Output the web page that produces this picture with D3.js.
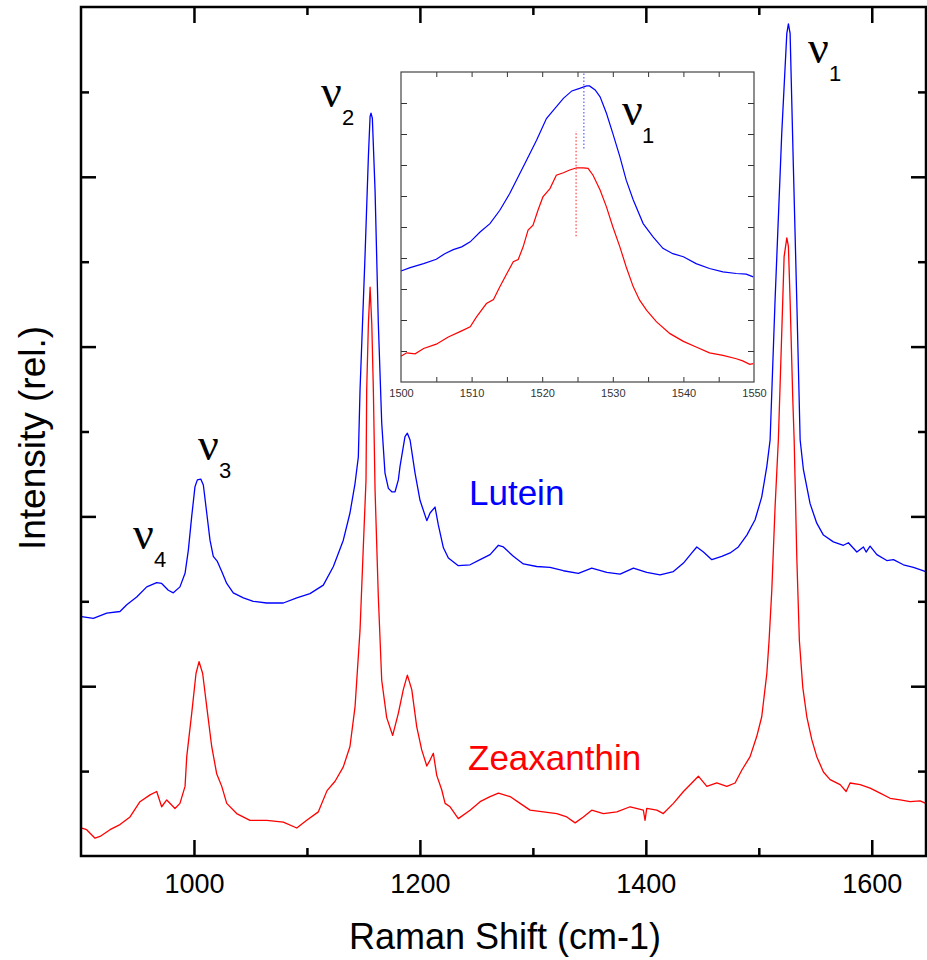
<!DOCTYPE html>
<html>
<head>
<meta charset="utf-8">
<script src="https://cdn.jsdelivr.net/npm/d3@7"></script>
<style>
  body { margin: 0; background: #fff; }
  svg { display: block; }
</style>
</head>
<body>
<div id="plot_area"></div>
<script>
// Raman spectra (shift in cm-1, intensity in relative units)
const luteinShift = [900.6, 910.9, 922.8, 934.5, 940.5, 949.3, 958.2, 967.0, 971.4, 977.3, 981.7, 987.6, 992.1, 995.0, 998.0,
  1000.9, 1003.0, 1006.0, 1008.3, 1011.3, 1014.2, 1017.1, 1020.7, 1024.6, 1029.0, 1034.8, 1043.7, 1052.5, 1064.4, 1079.1,
  1091.0, 1102.7, 1114.5, 1123.4, 1132.2, 1138.1, 1142.6, 1145.5, 1147.0, 1151.4, 1154.4, 1155.9, 1156.7, 1157.9, 1160.3,
  1163.2, 1166.2, 1169.1, 1172.1, 1175.1, 1178.0, 1180.9, 1182.4, 1186.8, 1188.9, 1191.3, 1195.7, 1200.1, 1206.1, 1209.0,
  1213.4, 1216.3, 1220.8, 1225.2, 1234.0, 1244.4, 1253.3, 1262.1, 1269.5, 1273.9, 1282.7, 1291.6, 1303.4, 1315.2, 1327.0,
  1340.3, 1352.1, 1365.4, 1377.2, 1389.0, 1400.8, 1412.6, 1424.4, 1433.3, 1440.7, 1445.1, 1451.0, 1458.4, 1467.2, 1474.6,
  1481.9, 1489.4, 1496.7, 1502.6, 1507.1, 1510.0, 1514.4, 1520.3, 1524.8, 1526.2, 1527.7, 1530.6, 1533.6, 1536.6, 1539.5,
  1545.4, 1551.3, 1557.2, 1566.0, 1574.9, 1579.3, 1586.8, 1592.6, 1595.0, 1598.5, 1604.5, 1613.3, 1619.2, 1628.0, 1636.9, 1647.8];
const luteinIntensity = [2.82, 2.80, 2.86, 2.88, 2.96, 3.05, 3.17, 3.22, 3.21, 3.13, 3.10, 3.17, 3.33, 3.60, 4.00,
  4.35, 4.43, 4.44, 4.37, 4.04, 3.72, 3.53, 3.47, 3.35, 3.21, 3.10, 3.04, 3.00, 2.98, 2.98,
  3.04, 3.09, 3.19, 3.41, 3.72, 4.04, 4.39, 4.70, 5.49, 7.06, 8.24, 8.71, 8.75, 8.69, 7.84,
  6.27, 5.10, 4.51, 4.33, 4.29, 4.29, 4.43, 4.59, 4.94, 4.98, 4.90, 4.51, 4.19, 3.95, 4.04,
  4.11, 3.90, 3.63, 3.51, 3.42, 3.43, 3.49, 3.55, 3.66, 3.64, 3.53, 3.44, 3.41, 3.40, 3.36,
  3.33, 3.39, 3.34, 3.32, 3.39, 3.34, 3.31, 3.35, 3.45, 3.57, 3.64, 3.58, 3.49, 3.53, 3.57,
  3.64, 3.78, 3.96, 4.23, 4.59, 4.90, 6.55, 8.51, 9.69, 9.80, 9.69, 8.12, 6.55, 4.90, 4.55,
  4.15, 3.92, 3.78, 3.70, 3.66, 3.69, 3.58, 3.64, 3.58, 3.65, 3.55, 3.48, 3.49, 3.43, 3.40, 3.35];

const zeaxShift = [900.0, 905.0, 912.4, 916.8, 925.7, 934.5, 943.4, 952.2, 961.1, 967.0, 971.4, 975.9, 983.2, 987.6, 992.1,
  993.6, 998.0, 1001.8, 1004.5, 1007.7, 1011.3, 1015.7, 1020.1, 1024.6, 1029.0, 1037.8, 1049.6, 1064.4, 1079.1, 1091.0,
  1099.8, 1110.1, 1117.8, 1124.9, 1132.2, 1138.1, 1142.6, 1147.0, 1149.9, 1152.3, 1152.9, 1154.4, 1155.9, 1157.4, 1158.8,
  1160.3, 1163.2, 1166.2, 1170.6, 1175.9, 1180.9, 1185.3, 1188.9, 1192.8, 1197.2, 1201.6, 1206.1, 1209.0, 1211.9, 1214.9,
  1219.3, 1222.3, 1226.7, 1234.0, 1244.4, 1253.3, 1262.1, 1269.5, 1279.8, 1288.7, 1297.5, 1309.3, 1321.2, 1330.0, 1337.4,
  1344.7, 1352.1, 1362.4, 1374.3, 1386.1, 1397.8, 1399.3, 1400.8, 1409.7, 1415.5, 1424.4, 1433.3, 1440.7, 1446.5, 1454.0,
  1462.8, 1471.7, 1479.0, 1484.9, 1492.3, 1498.2, 1502.6, 1507.1, 1509.1, 1511.5, 1514.4, 1517.3, 1520.3, 1522.4, 1524.8,
  1526.2, 1527.7, 1530.1, 1531.3, 1533.6, 1535.9, 1538.9, 1542.5, 1546.9, 1551.3, 1557.2, 1563.1, 1572.0, 1577.3, 1580.8,
  1589.7, 1598.5, 1607.4, 1616.2, 1625.1, 1633.9, 1642.8, 1647.8];
const zeaxIntensity = [0.33, 0.31, 0.21, 0.23, 0.31, 0.37, 0.46, 0.64, 0.72, 0.76, 0.58, 0.66, 0.56, 0.62, 0.82,
  1.17, 1.68, 2.15, 2.29, 2.15, 1.76, 1.29, 0.97, 0.82, 0.62, 0.50, 0.42, 0.42, 0.40, 0.33,
  0.42, 0.52, 0.77, 0.88, 1.05, 1.29, 1.76, 2.66, 3.64, 4.43, 5.49, 6.27, 6.70, 6.27, 5.49,
  4.31, 3.05, 2.07, 1.63, 1.42, 1.68, 1.96, 2.13, 1.96, 1.52, 1.25, 1.06, 1.13, 1.21, 0.95,
  0.78, 0.62, 0.58, 0.44, 0.54, 0.64, 0.70, 0.74, 0.70, 0.62, 0.54, 0.52, 0.50, 0.46, 0.39,
  0.46, 0.54, 0.50, 0.52, 0.58, 0.54, 0.42, 0.56, 0.54, 0.50, 0.62, 0.76, 0.86, 0.94, 0.82,
  0.86, 0.82, 0.86, 1.01, 1.17, 1.41, 1.64, 2.15, 2.54, 3.13, 4.11, 4.90, 6.16, 7.06, 7.28,
  7.18, 6.55, 5.37, 4.90, 3.53, 2.54, 1.99, 1.64, 1.37, 1.17, 0.99, 0.90, 0.84, 0.76, 0.86,
  0.84, 0.80, 0.74, 0.68, 0.66, 0.64, 0.65, 0.62];

// inset: zoom on the nu1 band, 1500-1550 cm-1
const insetLuteinShift = [1500.0, 1501.3, 1503.2, 1505.0, 1506.2, 1507.4, 1508.6, 1509.8, 1511.2, 1512.6, 1514.0, 1515.4,
  1516.6, 1517.8, 1519.2, 1520.6, 1521.6, 1523.0, 1524.2, 1525.3, 1526.3, 1526.7, 1527.5, 1528.2, 1529.1, 1530.0, 1531.0,
  1531.9, 1532.9, 1534.3, 1535.7, 1537.1, 1538.5, 1540.0, 1541.8, 1543.7, 1545.6, 1547.5, 1548.9, 1549.9];
const insetLuteinIntensity = [3.58, 3.69, 3.82, 3.96, 4.14, 4.27, 4.36, 4.52, 4.84, 5.11, 5.54, 6.08,
  6.62, 7.16, 7.80, 8.50, 8.77, 9.15, 9.39, 9.47, 9.55, 9.55, 9.42, 9.20, 8.67, 8.02, 7.27,
  6.51, 5.87, 5.11, 4.68, 4.31, 4.14, 4.04, 3.82, 3.66, 3.55, 3.50, 3.48, 3.39];
const insetZeaxShift = [1500.0, 1500.8, 1502.0, 1503.2, 1505.0, 1506.7, 1508.6, 1509.8, 1510.7, 1512.1, 1513.1, 1514.0,
  1515.0, 1515.9, 1516.6, 1517.3, 1518.0, 1518.7, 1519.4, 1520.1, 1521.1, 1522.0, 1523.0, 1523.9, 1524.9, 1525.8, 1526.5,
  1527.2, 1528.2, 1529.1, 1530.0, 1531.0, 1531.9, 1532.9, 1533.8, 1534.8, 1536.2, 1538.1, 1540.0, 1541.8, 1543.7, 1545.6,
  1547.5, 1548.4, 1549.4, 1549.9];
const insetZeaxIntensity = [0.83, 0.94, 0.91, 1.08, 1.22, 1.45, 1.65, 1.78, 2.10, 2.53, 2.66, 3.07,
  3.50, 3.88, 3.95, 4.36, 4.90, 5.06, 5.54, 5.97, 6.24, 6.67, 6.75, 6.84, 6.91, 6.91, 6.89,
  6.67, 6.19, 5.65, 5.01, 4.36, 3.71, 3.07, 2.64, 2.31, 1.94, 1.56, 1.31, 1.13, 0.94, 0.86,
  0.75, 0.68, 0.57, 0.59];
// dotted peak markers in the inset
const markerShift = [1525.9, 1524.8];
const markerLow = [7.53, 4.70];
const markerHigh = [9.96, 8.10];
const markerColor = ['#6a6aff', '#ff5050'];

const xMajorTicks = [1000, 1200, 1400, 1600];
const xMinorTicks = [1100, 1300, 1500];
const yMajorTicks = [2, 4, 6, 8];
const yMinorTicks = [1, 3, 5, 7, 9];
const insetXLabels = [1500, 1510, 1520, 1530, 1540, 1550];
const insetXTicks = [1505, 1510, 1515, 1520, 1525, 1530, 1535, 1540, 1545];
const insetYTicks = [1, 2, 3, 4, 5, 6, 7, 8, 9];

const w = 927;
const h = 960;
const plotLeft = 81, plotRight = 926, plotTop = 7, plotBottom = 856;

const xScale = d3.scaleLinear().domain([900, 1648]).range([plotLeft, plotRight]);
const yScale = d3.scaleLinear().domain([0, 10]).range([plotBottom, plotTop]);

const svg = d3.select('#plot_area')
  .append('svg')
  .attr('width', w)
  .attr('height', h)
  .style('font-family', '"Liberation Sans", Arial, sans-serif');

function pairs(xs, ys) {
  return xs.map((x, i) => [x, ys[i]]);
}

const line = d3.line()
  .x((d) => xScale(d[0]))
  .y((d) => yScale(d[1]));

svg.append('path')
  .datum(pairs(luteinShift, luteinIntensity))
  .attr('fill', 'none')
  .attr('stroke', '#0000ff')
  .attr('stroke-width', 1.3)
  .attr('stroke-linejoin', 'round')
  .attr('d', line);

svg.append('path')
  .datum(pairs(zeaxShift, zeaxIntensity))
  .attr('fill', 'none')
  .attr('stroke', '#ff0000')
  .attr('stroke-width', 1.3)
  .attr('stroke-linejoin', 'round')
  .attr('d', line);

// inward ticks on all four sides
function ticks(axisFn, scale, values, size, transform) {
  const g = svg.append('g')
    .attr('transform', transform)
    .call(axisFn(scale).tickValues(values).tickSize(size).tickFormat(''));
  g.select('.domain').remove();
  g.selectAll('line').attr('stroke', '#000').attr('stroke-width', 2.5);
  return g;
}
ticks(d3.axisBottom, xScale, xMajorTicks, -16, `translate(0,${plotBottom})`);
ticks(d3.axisBottom, xScale, xMinorTicks, -8, `translate(0,${plotBottom})`);
ticks(d3.axisTop, xScale, xMajorTicks, -16, `translate(0,${plotTop})`);
ticks(d3.axisTop, xScale, xMinorTicks, -8, `translate(0,${plotTop})`);
ticks(d3.axisLeft, yScale, yMajorTicks, -15, `translate(${plotLeft},0)`);
ticks(d3.axisLeft, yScale, yMinorTicks, -8, `translate(${plotLeft},0)`);
ticks(d3.axisRight, yScale, yMajorTicks, -15, `translate(${plotRight},0)`);
ticks(d3.axisRight, yScale, yMinorTicks, -8, `translate(${plotRight},0)`);

// tick labels
const xLab = svg.append('g')
  .attr('transform', `translate(0,${plotBottom})`)
  .call(d3.axisBottom(xScale).tickValues(xMajorTicks).tickSize(0).tickPadding(18).tickFormat(d3.format('d')));
xLab.select('.domain').remove();
xLab.selectAll('text').style('font-size', '27px').attr('fill', '#000')
  .style('font-family', '"Liberation Sans", Arial, sans-serif');

svg.append('rect')
  .attr('x', plotLeft).attr('y', plotTop)
  .attr('width', plotRight - plotLeft).attr('height', plotBottom - plotTop)
  .attr('fill', 'none').attr('stroke', '#000').attr('stroke-width', 2.5);

// axis titles
svg.append('text')
  .attr('x', 505).attr('y', 949)
  .attr('text-anchor', 'middle')
  .style('font-size', '36px')
  .text('Raman Shift (cm-1)');

svg.append('text')
  .attr('transform', 'translate(45,438) rotate(-90)')
  .attr('text-anchor', 'middle')
  .style('font-size', '37px')
  .text('Intensity (rel.)');

// series labels
svg.append('text').attr('x', 469).attr('y', 505)
  .style('font-size', '35px').attr('fill', '#0000ff').text('Lutein');
svg.append('text').attr('x', 468).attr('y', 770)
  .style('font-size', '35px').attr('fill', '#ff0000').text('Zeaxanthin');

// band labels: nu with subscript
function nu(x, y, sub) {
  svg.append('text').attr('x', x).attr('y', y)
    .style('font-family', '"Liberation Serif", "Times New Roman", serif')
    .style('font-size', '46px').text('\u03bd');
  svg.append('text').attr('x', x + 21).attr('y', y + 18)
    .style('font-size', '22px').text(sub);
}
nu(808, 63, '1');
nu(321, 107, '2');
nu(198, 460, '3');
nu(133, 549, '4');

// inset
const inX = d3.scaleLinear().domain([1500, 1550]).range([401, 754]);
const inY = d3.scaleLinear().domain([0, 10]).range([382, 72]);
const inset = svg.append('g');

inset.append('rect')
  .attr('x', 401).attr('y', 72).attr('width', 353).attr('height', 310)
  .attr('fill', '#fff');

const inLine = d3.line()
  .x((d) => inX(d[0]))
  .y((d) => inY(d[1]));

inset.append('path')
  .datum(pairs(insetLuteinShift, insetLuteinIntensity))
  .attr('fill', 'none').attr('stroke', '#0000ff').attr('stroke-width', 1.2)
  .attr('d', inLine);
inset.append('path')
  .datum(pairs(insetZeaxShift, insetZeaxIntensity))
  .attr('fill', 'none').attr('stroke', '#ff0000').attr('stroke-width', 1.2)
  .attr('d', inLine);

markerShift.forEach(function (s, i) {
  inset.append('line')
    .attr('x1', inX(s)).attr('x2', inX(s))
    .attr('y1', inY(markerLow[i])).attr('y2', inY(markerHigh[i]))
    .attr('stroke', markerColor[i]).attr('stroke-width', 1.3)
    .attr('stroke-dasharray', '1.5,2');
});

function inTicks(axisFn, scale, values, size, transform) {
  const g = inset.append('g')
    .attr('transform', transform)
    .call(axisFn(scale).tickValues(values).tickSize(size).tickFormat(''));
  g.select('.domain').remove();
  g.selectAll('line').attr('stroke', '#333').attr('stroke-width', 1);
}
inTicks(d3.axisBottom, inX, insetXTicks, -5, 'translate(0,382)');
inTicks(d3.axisTop, inX, insetXTicks, -5, 'translate(0,72)');
inTicks(d3.axisLeft, inY, insetYTicks, -6, 'translate(401,0)');
inTicks(d3.axisRight, inY, insetYTicks, -6, 'translate(754,0)');

const inLab = inset.append('g')
  .attr('transform', 'translate(0,382)')
  .call(d3.axisBottom(inX).tickValues(insetXLabels).tickSize(0).tickPadding(7).tickFormat(d3.format('d')));
inLab.select('.domain').remove();
inLab.selectAll('text').style('font-size', '11px').attr('fill', '#333')
  .style('font-family', '"Liberation Sans", Arial, sans-serif');

inset.append('rect')
  .attr('x', 401).attr('y', 72).attr('width', 353).attr('height', 310)
  .attr('fill', 'none').attr('stroke', '#444').attr('stroke-width', 1.2);

inset.append('text').attr('x', 622).attr('y', 125)
  .style('font-family', '"Liberation Serif", "Times New Roman", serif')
  .style('font-size', '46px').text('\u03bd');
inset.append('text').attr('x', 642).attr('y', 143)
  .style('font-size', '22px').text('1');
</script>
</body>
</html>
